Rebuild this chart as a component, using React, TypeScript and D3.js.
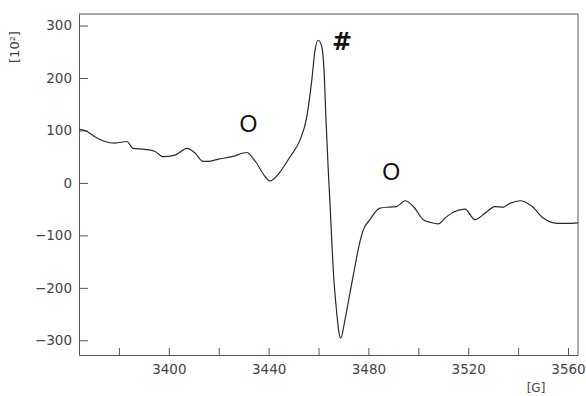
import React, { useEffect, useRef } from 'react'
import * as d3 from 'd3'

// magnetic field [G]
const fieldG = [
    3364.0, 3366.4, 3370.4, 3374.4, 3378.4, 3383.2, 3385.6, 3390.5, 3394.5,
    3397.7, 3402.5, 3407.3, 3410.5, 3413.7, 3415.7, 3419.7, 3425.3, 3431.3,
    3433.7, 3435.3, 3437.7, 3440.6, 3444.6, 3448.6, 3452.6, 3455.3, 3457.3,
    3458.6, 3459.9, 3461.3, 3462.2, 3463.0, 3463.9, 3464.6, 3465.9, 3467.3,
    3468.1, 3468.9, 3470.6, 3472.6, 3474.6, 3476.6, 3477.9, 3480.6, 3484.6,
    3488.6, 3491.3, 3494.7, 3498.0, 3502.0, 3504.7, 3508.0, 3510.7, 3514.0,
    3518.7, 3522.7, 3526.7, 3530.7, 3534.1, 3536.7, 3540.8, 3545.4, 3550.1,
    3555.5, 3559.5, 3564.0,
]

// signal intensity [10^2]
const intensity = [
    102, 100, 88, 79, 76, 79, 66, 64, 60,
    50, 53, 66, 57, 41, 41, 45, 50, 58,
    47, 37, 18, 4, 21, 50, 82, 126, 196,
    253, 272, 260, 215, 120, 25, -39, -166, -248,
    -282, -296, -261, -210, -159, -112, -90, -70, -48,
    -46, -45, -34, -45, -70, -75, -78, -67, -56,
    -50, -70, -58, -45, -46, -39, -34, -44, -67,
    -77, -77, -76,
]

const xTicks = [3380, 3400, 3420, 3440, 3460, 3480, 3500, 3520, 3540, 3560]
const yTicks = [300, 200, 100, 0, -100, -200, -300]

// peak markers
const markers = [
    { label: 'O', g: 3431.9, v: 97, bold: false },
    { label: '#', g: 3469.4, v: 253, bold: true },
    { label: 'O', g: 3489.1, v: 5, bold: false },
]

const ESRChart: React.FC = () => {
    const svgRef = useRef<SVGSVGElement | null>(null)

    useEffect(() => {
        if (!svgRef.current) return
        const width = 586
        const height = 396
        const margin = { top: 14, right: 8, bottom: 41, left: 79 }

        const svg = d3.select(svgRef.current)
        svg.selectAll('*').remove()

        const x = d3
            .scaleLinear()
            .domain([3364, 3564])
            .range([margin.left, width - margin.right])
        const y = d3
            .scaleLinear()
            .domain([-328, 322])
            .range([height - margin.bottom, margin.top])

        const axisColor = '#555'
        const textColor = '#444'
        const font = '"DejaVu Sans", sans-serif'

        // frame (top, right)
        svg.append('path')
            .attr('d', `M${x(3364)},${y(322)}H${x(3564)}V${y(-328)}`)
            .attr('fill', 'none')
            .attr('stroke', axisColor)
            .attr('stroke-width', 1)

        // bottom axis, ticks pointing inward
        const gx = svg
            .append('g')
            .attr('transform', `translate(0,${y(-328)})`)
            .call(
                d3
                    .axisBottom(x)
                    .tickValues(xTicks)
                    .tickSizeInner(-7)
                    .tickSizeOuter(0)
                    .tickPadding(9)
                    .tickFormat((d) => ((d as number) % 40 === 0 ? String(d) : ''))
            )

        // left axis
        const gy = svg
            .append('g')
            .attr('transform', `translate(${x(3364)},0)`)
            .call(
                d3
                    .axisLeft(y)
                    .tickValues(yTicks)
                    .tickSizeInner(-9)
                    .tickSizeOuter(0)
                    .tickPadding(7)
                    .tickFormat((d) => d3.format('d')(d as number).replace('-', '\u2212'))
            )

        for (const g of [gx, gy]) {
            g.select('.domain').attr('stroke', axisColor)
            g.selectAll('.tick line').attr('stroke', axisColor)
            g.selectAll('.tick text')
                .attr('fill', textColor)
                .style('font-family', font)
                .style('font-size', '13.5px')
        }

        // spectrum
        const data = fieldG.map((g, i) => ({ g, v: intensity[i] }))
        const line = d3
            .line<{ g: number; v: number }>()
            .x((d) => x(d.g))
            .y((d) => y(d.v))
            .curve(d3.curveMonotoneX)

        svg.append('path')
            .datum(data)
            .attr('fill', 'none')
            .attr('stroke', '#2a2a2a')
            .attr('stroke-width', 1.2)
            .attr('d', line)

        // unit labels
        svg.append('text')
            .attr('transform', `translate(19,47) rotate(-90)`)
            .attr('text-anchor', 'middle')
            .attr('fill', textColor)
            .style('font-family', font)
            .style('font-size', '13px')
            .text('[10²]')

        svg.append('text')
            .attr('x', 536)
            .attr('y', 392)
            .attr('text-anchor', 'middle')
            .attr('fill', textColor)
            .style('font-family', font)
            .style('font-size', '12px')
            .text('[G]')

        // markers
        svg.selectAll('text.marker')
            .data(markers)
            .join('text')
            .attr('class', 'marker')
            .attr('x', (d) => x(d.g))
            .attr('y', (d) => y(d.v))
            .attr('text-anchor', 'middle')
            .attr('fill', '#111')
            .style('font-family', (d) =>
                d.bold ? '"DejaVu Sans", sans-serif' : '"Liberation Sans", Arial, sans-serif'
            )
            .style('font-weight', (d) => (d.bold ? 'bold' : 'normal'))
            .style('font-size', (d) => (d.bold ? '24px' : '23px'))
            .text((d) => d.label)
    }, [])

    return (
        <svg
            ref={svgRef}
            width={586}
            height={396}
            style={{ position: 'absolute', left: 0, top: 0, background: '#fff' }}
        ></svg>
    )
}

export default ESRChart
